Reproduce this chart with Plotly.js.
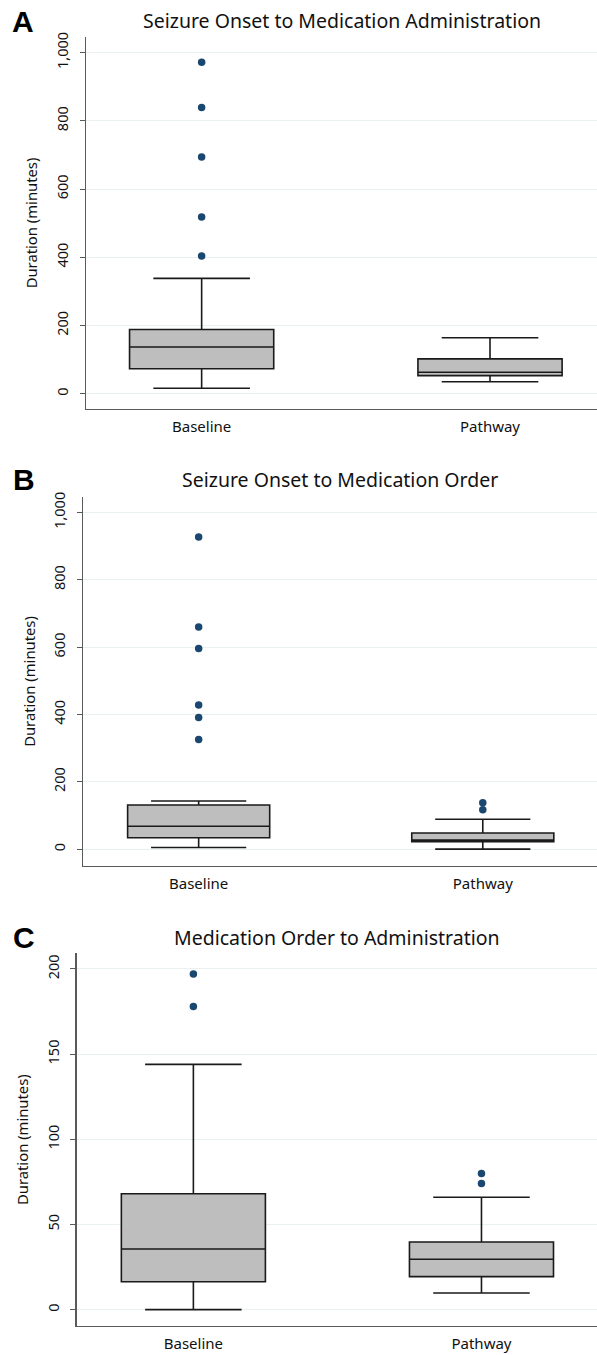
<!DOCTYPE html>
<html>
<head>
<meta charset="utf-8">
<script src="https://cdn.plot.ly/plotly-3.0.1.min.js"></script>
<style>html,body{margin:0;padding:0;background:#fff;}#chart{width:597px;height:1355px;}</style>
</head>
<body>
<div id="chart"></div>
<script>
// ---- data ----
const categories = ["Baseline", "Pathway"];

const titleA = "Seizure Onset to Medication Administration";
const lowerA  = [16, 35];
const q1A     = [73, 53];
const medianA = [137, 63];
const q3A     = [188, 102];
const upperA  = [338, 164];
const outBaselineA = [972, 839, 694, 518, 404];
const outPathwayA  = [];

const titleB = "Seizure Onset to Medication Order";
const lowerB  = [5, 0];
const q1B     = [34, 22];
const medianB = [68, 27];
const q3B     = [131, 48];
const upperB  = [143, 89];
const outBaselineB = [927, 660, 596, 428, 391, 326];
const outPathwayB  = [138, 117];

const titleC = "Medication Order to Administration";
const lowerC  = [0, 9.8];
const q1C     = [16.4, 19.4];
const medianC = [35.6, 29.6];
const q3C     = [68, 39.7];
const upperC  = [144, 66];
const outBaselineC = [197, 178];
const outPathwayC  = [80, 74];

const yTitle = "Duration (minutes)";
const panelLetters = ["A", "B", "C"];

// ---- styles ----
const FONT = "Noto Sans, Open Sans, sans-serif";
const W = 597, H = 1355;
const boxFill = "#bebebe", boxLine = "#1a1a1a", dotColor = "#1a476f";
const gridColor = "#e8f0f1", axisColor = "#5a5a5a";

function boxTrace(xa, ya, lo, q1, med, q3, up) {
  return {
    type: "box", x: categories, q1: q1, median: med, q3: q3,
    lowerfence: lo, upperfence: up, boxpoints: false,
    fillcolor: boxFill, line: {color: boxLine, width: 1.6},
    whiskerwidth: 0.67, xaxis: xa, yaxis: ya, hoverinfo: "skip", showlegend: false
  };
}
function outlierTrace(xa, ya, base, path) {
  const xs = [], ys = [];
  base.forEach(v => { xs.push(categories[0]); ys.push(v); });
  path.forEach(v => { xs.push(categories[1]); ys.push(v); });
  return {
    type: "scatter", mode: "markers", x: xs, y: ys,
    marker: {color: dotColor, size: 7.5}, xaxis: xa, yaxis: ya,
    hoverinfo: "skip", showlegend: false
  };
}

const data = [
  boxTrace("x", "y", lowerA, q1A, medianA, q3A, upperA),
  outlierTrace("x", "y", outBaselineA, outPathwayA),
  boxTrace("x2", "y2", lowerB, q1B, medianB, q3B, upperB),
  outlierTrace("x2", "y2", outBaselineB, outPathwayB),
  boxTrace("x3", "y3", lowerC, q1C, medianC, q3C, upperC),
  outlierTrace("x3", "y3", outBaselineC, outPathwayC)
];

function px2fx(px) { return px / W; }
function px2fy(py) { return 1 - py / H; }

function xAxis(left, range, anchor) {
  return {
    type: "category", categoryorder: "array", categoryarray: categories,
    domain: [px2fx(left), 1], range: range, anchor: anchor,
    showline: true, linecolor: axisColor, linewidth: 1.3,
    ticks: "", showgrid: false, zeroline: false, automargin: false,
    tickfont: {family: FONT, size: 15, color: "#111"}, ticklabelstandoff: 4, fixedrange: true
  };
}
function yAxis(top, bottom, range, dtick, anchor) {
  return {
    domain: [px2fy(bottom), px2fy(top)], range: range, anchor: anchor,
    tick0: 0, dtick: dtick, tickformat: ",", tickangle: -90,
    showgrid: true, gridcolor: gridColor, gridwidth: 1, zeroline: false,
    showline: true, linecolor: axisColor, linewidth: 1.3,
    ticks: "outside", ticklen: 5, tickcolor: axisColor, tickwidth: 1,
    tickfont: {family: FONT, size: 14.5, color: "#111"}, ticklabelstandoff: 6,
    automargin: false, fixedrange: true,
    title: {text: yTitle, font: {family: FONT, size: 14.8, color: "#111"}, standoff: 10}
  };
}

const letterFont = {family: "Liberation Sans, Arial, sans-serif", size: 30, color: "#000", weight: "bold"};
const titleFont = {family: FONT, size: 19.5, color: "#111"};

const layout = {
  width: W, height: H, margin: {l: 0, r: 0, t: 0, b: 0},
  paper_bgcolor: "#fff", plot_bgcolor: "#fff",
  font: {family: FONT, color: "#111"},
  boxgap: 0.5, boxgroupgap: 0, showlegend: false,
  xaxis:  xAxis(86,   [-0.401, 1.371], "y"),
  yaxis:  yAxis(37,   409,  [-45, 1046], 200, "x"),
  xaxis2: xAxis(83.3, [-0.406, 1.402], "y2"),
  yaxis2: yAxis(497,  866,  [-50, 1046], 200, "x2"),
  xaxis3: xAxis(76.7, [-0.405, 1.401], "y3"),
  yaxis3: yAxis(953.3, 1326, [-9.6, 209.2], 50, "x3"),
  annotations: [
    {text: panelLetters[0], x: px2fx(10), y: px2fy(21), xref: "paper", yref: "paper", xanchor: "left", yanchor: "middle", showarrow: false, font: letterFont},
    {text: panelLetters[1], x: px2fx(11), y: px2fy(480), xref: "paper", yref: "paper", xanchor: "left", yanchor: "middle", showarrow: false, font: letterFont},
    {text: panelLetters[2], x: px2fx(11), y: px2fy(938), xref: "paper", yref: "paper", xanchor: "left", yanchor: "middle", showarrow: false, font: letterFont},
    {text: titleA, x: px2fx((86 + 597) / 2), y: px2fy(20), xref: "paper", yref: "paper", xanchor: "center", yanchor: "middle", showarrow: false, font: titleFont},
    {text: titleB, x: px2fx((83.3 + 597) / 2), y: px2fy(480), xref: "paper", yref: "paper", xanchor: "center", yanchor: "middle", showarrow: false, font: titleFont},
    {text: titleC, x: px2fx((76.7 + 597) / 2), y: px2fy(937), xref: "paper", yref: "paper", xanchor: "center", yanchor: "middle", showarrow: false, font: titleFont}
  ]
};

Plotly.newPlot("chart", data, layout, {staticPlot: true, displayModeBar: false});
</script>
</body>
</html>
